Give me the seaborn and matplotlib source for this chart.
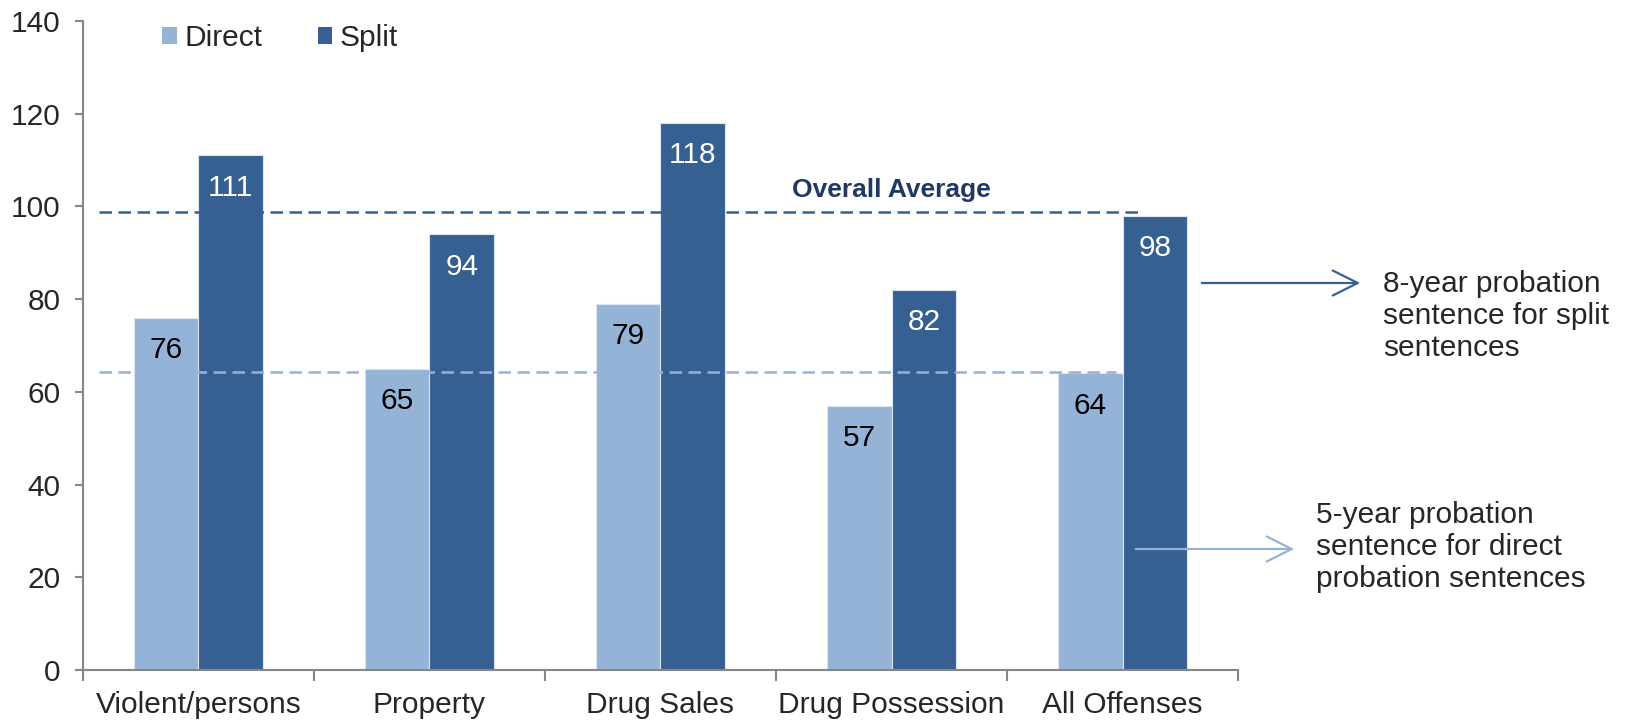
import matplotlib
matplotlib.use("Agg")
import matplotlib.pyplot as plt
import seaborn as sns
import pandas as pd
from matplotlib.ticker import FixedLocator

# Average probation length (months) by offense type
categories = ["Violent/persons", "Property", "Drug Sales", "Drug Possession", "All Offenses"]
direct = [76, 65, 79, 57, 64]
split = [111, 94, 118, 82, 98]
series = ["Direct", "Split"]
y_ticks = [0, 20, 40, 60, 80, 100, 120, 140]

# Overall average reference levels
avg_split = 98.7
avg_direct = 64.3

LIGHT = "#95B3D7"
DARK = "#366092"
NAVY = "#1F3864"
AXIS_GRAY = "#868686"
FS = 21.5

df = pd.DataFrame({
    "Offense": categories * 2,
    "Months": direct + split,
    "Type": ["Direct"] * len(categories) + ["Split"] * len(categories),
})

sns.set_style("white")
plt.rcParams["font.family"] = ["Liberation Sans", "DejaVu Sans"]
plt.rcParams["font.size"] = FS

fig = plt.figure(figsize=(16.42, 7.21), dpi=100)
ax = fig.add_axes([0.0505, 0.0707, 0.7035, 0.9003])

sns.barplot(data=df, x="Offense", y="Months", hue="Type", hue_order=series,
            palette=[LIGHT, DARK], width=0.56, gap=0, ax=ax, linewidth=0.8,
            edgecolor="#dce6f2", saturation=1, errorbar=None)

ax.set_ylim(0, 140)
ax.set_xlim(-0.5, len(categories) - 0.5)
ax.set_xlabel("")
ax.set_ylabel("")
ax.set_yticks(y_ticks)

# Value labels inside each bar
for container, color in zip(ax.containers, ["black", "white"]):
    for patch in container:
        h = patch.get_height()
        ax.text(patch.get_x() + patch.get_width() / 2, h - 7, f"{h:.0f}",
                ha="center", va="center", color=color, fontsize=FS)

# Overall average reference lines
dash = (0, (5, 2.6))
ax.plot([-0.43, 4.08], [avg_split, avg_split], ls=dash, color=DARK, lw=1.8)
ax.plot([-0.43, 3.97], [avg_direct, avg_direct], ls=dash, color=LIGHT, lw=1.8)
ax.text(3.0, 103.5, "Overall Average", ha="center", va="center",
        color=NAVY, fontsize=19, fontweight="bold")

# Axes styling
for side in ["top", "right"]:
    ax.spines[side].set_visible(False)
for side in ["left", "bottom"]:
    ax.spines[side].set_color(AXIS_GRAY)
    ax.spines[side].set_linewidth(1.5)
ax.tick_params(axis="y", which="major", direction="out", length=6, width=1.5,
               color=AXIS_GRAY, pad=10, left=True, labelsize=FS)
ax.tick_params(axis="x", which="major", length=0, pad=15, labelsize=FS)
ax.xaxis.set_minor_locator(FixedLocator([i + 0.5 for i in range(-1, len(categories))]))
ax.tick_params(axis="x", which="minor", direction="out", length=8, width=1.5,
               color=AXIS_GRAY, bottom=True)

# Legend
handles, labels = ax.get_legend_handles_labels()
for h in handles:
    h.set_edgecolor("none")
ax.legend(handles, labels, loc="upper left", bbox_to_anchor=(0.058, 1.014), ncol=2,
          frameon=False, handlelength=0.5, handleheight=0.5, handletextpad=0.25,
          columnspacing=1.85, fontsize=FS, borderaxespad=0)

# Side notes with arrows
fig_w, fig_h = 1642, 721
def fx(px):
    return px / fig_w
def fy(py):
    return 1 - py / fig_h

arrow_style = "->,head_length=0.9,head_width=0.45"
fig.add_artist(matplotlib.patches.FancyArrowPatch(
    (fx(1199), fy(283)), (fx(1363), fy(283)), transform=fig.transFigure,
    arrowstyle=arrow_style, mutation_scale=20, lw=1.6, color=DARK))
fig.add_artist(matplotlib.patches.FancyArrowPatch(
    (fx(1133), fy(549)), (fx(1297), fy(549)), transform=fig.transFigure,
    arrowstyle=arrow_style, mutation_scale=20, lw=1.6, color=LIGHT))
fig.text(fx(1383), fy(316), "8-year probation\nsentence for split\nsentences",
         ha="left", va="center", fontsize=FS, linespacing=1.17)
fig.text(fx(1316), fy(547), "5-year probation\nsentence for direct\nprobation sentences",
         ha="left", va="center", fontsize=FS, linespacing=1.17)

fig.savefig("out.png", dpi=100)
